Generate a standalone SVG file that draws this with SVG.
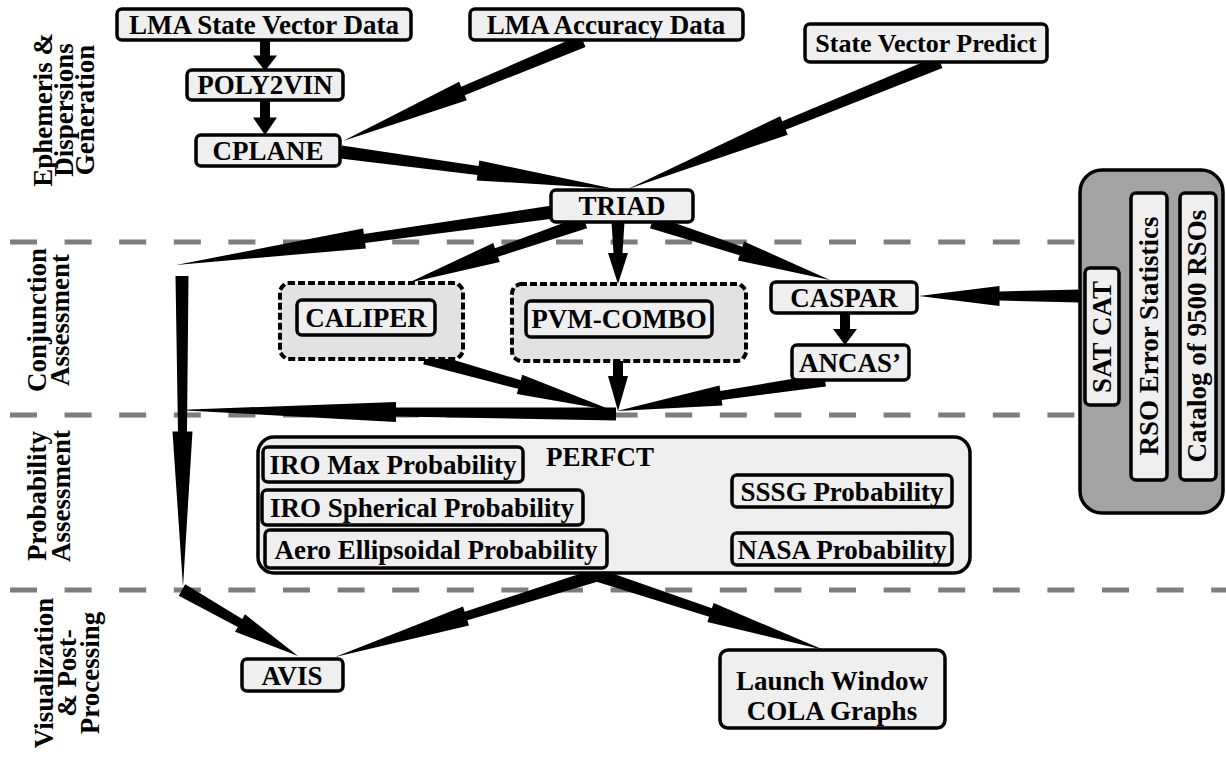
<svg xmlns="http://www.w3.org/2000/svg" xmlns:xlink="http://www.w3.org/1999/xlink" width="1226" height="757" viewBox="0 0 1226 757">
<defs>
<style>
.t{font-family:"Liberation Serif","Times New Roman",serif;font-weight:bold;font-size:27px;text-anchor:middle;fill:#000}
.lab{font-family:"Liberation Serif","Times New Roman",serif;font-weight:bold;font-size:27px;text-anchor:middle;fill:#000}
.box{fill:#efefef;stroke:#000;stroke-width:3.5}
.grp{fill:#e2e2e2;stroke:#000;stroke-width:4;stroke-dasharray:3 7;stroke-linecap:square}
.big{fill:#eeeeee;stroke:#000;stroke-width:3.5}
.gray{fill:#a3a3a3;stroke:#000;stroke-width:3.5}
.dash{fill:#7d7d7d}
.arr{fill:#000}
</style>
<path id="w" d="M0,-6.5 L0.5,-4.5 L0.5,-10 L1,0 L0.5,10 L0.5,4.5 L0,6.5 Z"/>
<path id="w3" d="M0,-5 L0.3,-5 L0.3,-10 L1,0 L0.3,10 L0.3,5 L0,5 Z"/>
<path id="blk" d="M0,-5 L0.5,-5 L0.5,-12 L1,0 L0.5,12 L0.5,5 L0,5 Z"/>
<g id="dashrow">
<rect x="10" y="-2.5" width="27" height="5"/><rect x="64.6" y="-2.5" width="27" height="5"/><rect x="119.2" y="-2.5" width="27" height="5"/><rect x="173.8" y="-2.5" width="27" height="5"/><rect x="228.4" y="-2.5" width="27" height="5"/><rect x="283" y="-2.5" width="27" height="5"/><rect x="337.6" y="-2.5" width="27" height="5"/><rect x="392.2" y="-2.5" width="27" height="5"/><rect x="446.8" y="-2.5" width="27" height="5"/><rect x="501.4" y="-2.5" width="27" height="5"/><rect x="556" y="-2.5" width="27" height="5"/><rect x="610.6" y="-2.5" width="27" height="5"/><rect x="665.2" y="-2.5" width="27" height="5"/><rect x="719.8" y="-2.5" width="27" height="5"/><rect x="774.4" y="-2.5" width="27" height="5"/><rect x="829" y="-2.5" width="27" height="5"/><rect x="883.6" y="-2.5" width="27" height="5"/><rect x="938.2" y="-2.5" width="27" height="5"/><rect x="992.8" y="-2.5" width="27" height="5"/><rect x="1047.4" y="-2.5" width="27" height="5"/>
</g>
</defs>
<rect width="1226" height="757" fill="#fff"/>

<g id="separators" class="dash">
<use xlink:href="#dashrow" href="#dashrow" transform="translate(0,242)"/>
<use xlink:href="#dashrow" href="#dashrow" transform="translate(0,415)"/>
<use xlink:href="#dashrow" href="#dashrow" transform="translate(0,590)"/>
<rect x="1102" y="587.5" width="27" height="5"/>
<rect x="1156.6" y="587.5" width="27" height="5"/>
<rect x="1211.2" y="587.5" width="15" height="5"/>
</g>

<g id="phase-labels" class="lab">
<text transform="translate(52,110) rotate(-90)">Ephemeris &amp;</text>
<text transform="translate(73,110) rotate(-90)">Dispersions</text>
<text transform="translate(94,110) rotate(-90)">Generation</text>
<text transform="translate(46,320) rotate(-90)">Conjunction</text>
<text transform="translate(69,320) rotate(-90)">Assessment</text>
<text transform="translate(46,496) rotate(-90)">Probability</text>
<text transform="translate(70,496) rotate(-90)">Assessment</text>
<text transform="translate(53,673) rotate(-90)">Visualization</text>
<text transform="translate(76,673) rotate(-90)">&amp; Post-</text>
<text transform="translate(99,673) rotate(-90)">Processing</text>
</g>

<g id="connectors" class="arr">
<use href="#blk" transform="translate(265,40) rotate(90) scale(31,1)"/>
<use href="#blk" transform="translate(265,100) rotate(90) scale(35,1)"/>
<use href="#w" transform="translate(583,41) rotate(157.38) scale(260,1)"/>
<use href="#w" transform="translate(341,152) rotate(7.69) scale(276.5,1)"/>
<use href="#w" transform="translate(940,62) rotate(157.85) scale(336.9,1)"/>
<use href="#w" transform="translate(553,212) rotate(172) scale(380.7,1)"/>
<use href="#w" transform="translate(585,222) rotate(160.99) scale(187.2,1)"/>
<use href="#w" transform="translate(618,222) rotate(90) scale(62,1)"/>
<use href="#w" transform="translate(652,222) rotate(18.05) scale(187.2,1)"/>
<use href="#w" transform="translate(1080,296) rotate(180) scale(161,1)"/>
<use href="#blk" transform="translate(845,313) rotate(90) scale(32,1)"/>
<use href="#w" transform="translate(425,358) rotate(15.66) scale(196.3,1)"/>
<use href="#w3" transform="translate(618,361) rotate(90) scale(50,1)"/>
<use href="#w" transform="translate(825,380) rotate(171.52) scale(210.3,1)"/>
<use href="#w" transform="translate(616,414) rotate(-179.48) scale(440,1)"/>
<use href="#w" transform="translate(182,276) rotate(89.82) scale(311,1)"/>
<use href="#w" transform="translate(182,590) rotate(29.64) scale(133.5,1)"/>
<use href="#w" transform="translate(597,575) rotate(162.62) scale(274.5,1)"/>
<use href="#w" transform="translate(597,575) rotate(18.28) scale(239.1,1)"/>
</g>

<g id="n-lma-sv"><rect class="box" x="117" y="9" width="294" height="31" rx="5"/><text class="t" x="264" y="34">LMA State Vector Data</text></g>
<g id="n-lma-acc"><rect class="box" x="470" y="9" width="273" height="31" rx="5"/><text class="t" x="606" y="34">LMA Accuracy Data</text></g>
<g id="n-svp"><rect class="box" x="805" y="24" width="242" height="38" rx="5"/><text class="t" x="926" y="52" style="font-size:26px">State Vector Predict</text></g>
<g id="n-poly2vin"><rect class="box" x="187" y="70" width="156" height="30" rx="5"/><text class="t" x="265" y="94">POLY2VIN</text></g>
<g id="n-cplane"><rect class="box" x="196" y="135" width="144" height="31" rx="5"/><text class="t" x="268" y="160">CPLANE</text></g>
<g id="n-triad"><rect class="box" x="551" y="190" width="142" height="32" rx="5"/><text class="t" x="622" y="215">TRIAD</text></g>

<g id="n-caliper"><rect class="grp" x="280" y="283" width="183" height="76" rx="10"/><rect class="box" x="297" y="300" width="138" height="35" rx="5"/><text class="t" x="366" y="327">CALIPER</text></g>
<g id="n-pvm"><rect class="grp" x="512" y="284" width="234" height="77" rx="10"/><rect class="box" x="526" y="301" width="186" height="36" rx="5"/><text class="t" x="619" y="328">PVM-COMBO</text></g>
<g id="n-caspar"><rect class="box" x="771" y="282" width="146" height="31" rx="5"/><text class="t" x="844" y="307">CASPAR</text></g>
<g id="n-ancas"><rect class="box" x="792" y="345" width="117" height="35" rx="5"/><text class="t" x="850" y="372">ANCAS’</text></g>

<g id="n-catalog">
<rect class="gray" x="1080" y="170" width="143" height="343" rx="22"/>
<rect class="box" x="1085" y="268" width="34" height="137" rx="5"/>
<text class="t" transform="translate(1111,337) rotate(-90)">SAT CAT</text>
<rect class="box" x="1131" y="193" width="36" height="287" rx="5"/>
<text class="t" transform="translate(1158,336) rotate(-90)">RSO Error Statistics</text>
<rect class="box" x="1180" y="193" width="36" height="287" rx="5"/>
<text class="t" transform="translate(1206,336) rotate(-90)">Catalog of 9500 RSOs</text>
</g>

<g id="n-perfct">
<rect class="big" x="258" y="437" width="712" height="136" rx="16"/>
<text class="t" x="600" y="466">PERFCT</text>
<rect class="box" x="263" y="447" width="260" height="35" rx="5"/><text class="t" x="393" y="474">IRO Max Probability</text>
<rect class="box" x="262" y="490" width="321" height="35" rx="5"/><text class="t" x="422" y="517">IRO Spherical Probability</text>
<rect class="box" x="265" y="530" width="342" height="38" rx="5"/><text class="t" x="436" y="559">Aero Ellipsoidal Probability</text>
<rect class="box" x="732" y="475" width="220" height="32" rx="5"/><text class="t" x="842" y="501">SSSG Probability</text>
<rect class="box" x="732" y="533" width="220" height="32" rx="5"/><text class="t" x="842" y="559">NASA Probability</text>
</g>

<g id="n-avis"><rect class="box" x="242" y="659" width="101" height="32" rx="5"/><text class="t" x="292" y="685">AVIS</text></g>
<g id="n-launch"><rect class="box" x="720" y="650" width="225" height="78" rx="8"/><text class="t" x="832" y="690">Launch Window</text><text class="t" x="832" y="720">COLA Graphs</text></g>
</svg>
